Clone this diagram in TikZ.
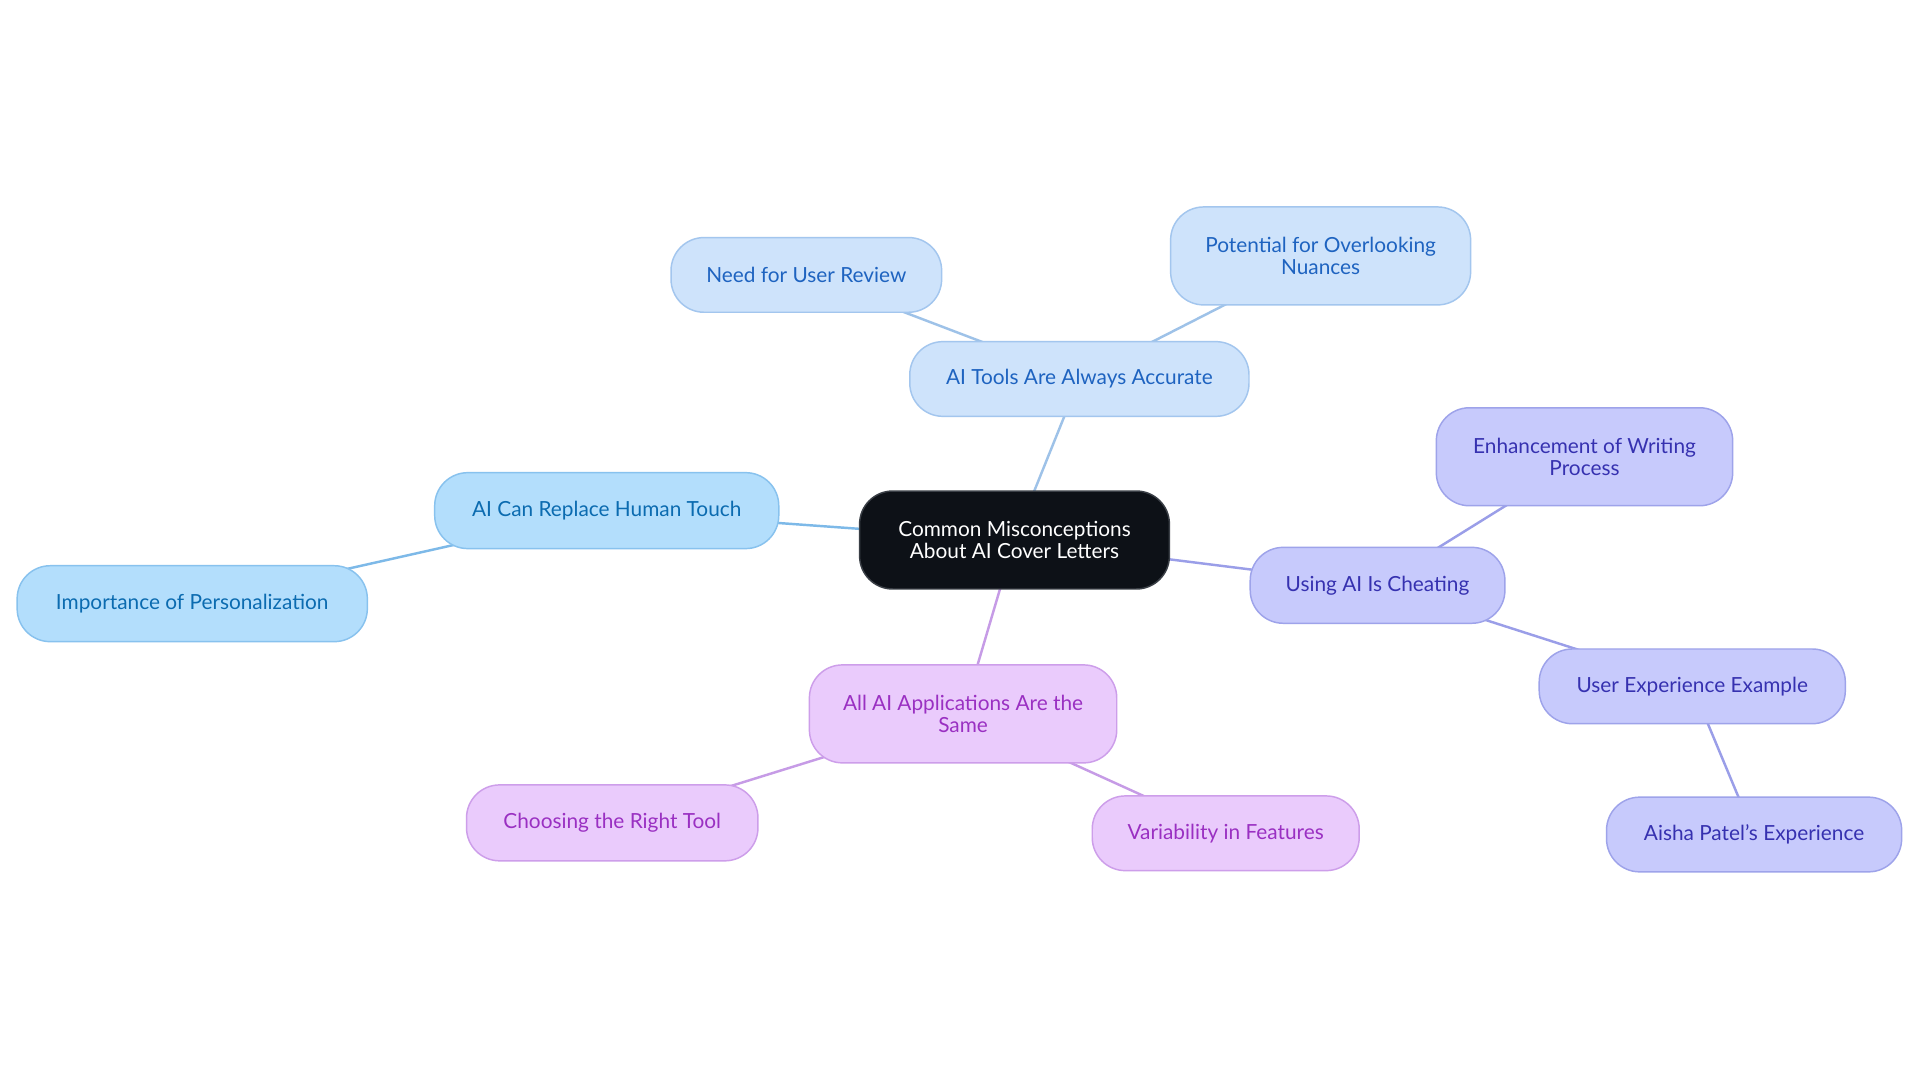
\documentclass[tikz,border=0pt]{standalone}
\usepackage{fontspec}
\setmainfont{Lato}
\usetikzlibrary{backgrounds}
\definecolor{cfillA}{HTML}{CEE3FB}
\definecolor{cdrawA}{HTML}{A3C6EE}
\definecolor{ctextA}{HTML}{1E63C0}
\definecolor{clineA}{HTML}{9EC2E8}
\definecolor{cfillB}{HTML}{B3DEFC}
\definecolor{cdrawB}{HTML}{88C2EE}
\definecolor{ctextB}{HTML}{0B6BB0}
\definecolor{clineB}{HTML}{7DB9E8}
\definecolor{cfillC}{HTML}{C7CAFC}
\definecolor{cdrawC}{HTML}{9EA3EA}
\definecolor{ctextC}{HTML}{3631B0}
\definecolor{clineC}{HTML}{9A9EE8}
\definecolor{cfillD}{HTML}{EACBFC}
\definecolor{cdrawD}{HTML}{CD9EEA}
\definecolor{ctextD}{HTML}{9A30C2}
\definecolor{clineD}{HTML}{C69BE6}
\definecolor{cfillM}{HTML}{0D1117}
\definecolor{cdrawM}{HTML}{3A3F46}
\begin{document}
\begin{tikzpicture}[x=1pt,y=-1pt,
  box/.style={rectangle, rounded corners=27pt, inner sep=0pt, align=center, line width=1.2pt,
    font=\fontsize{17}{18.5}\selectfont},
  bA/.style={box, fill=cfillA, draw=cdrawA, text=ctextA},
  bB/.style={box, fill=cfillB, draw=cdrawB, text=ctextB},
  bC/.style={box, fill=cfillC, draw=cdrawC, text=ctextC},
  bD/.style={box, fill=cfillD, draw=cdrawD, text=ctextD},
  bM/.style={box, fill=cfillM, draw=cdrawM, text=white},
  lA/.style={draw=clineA, line width=2pt},
  lB/.style={draw=clineB, line width=2pt},
  lC/.style={draw=clineC, line width=2pt},
  lD/.style={draw=clineD, line width=2pt}]
\useasboundingbox (0,0) rectangle (1568,884.4);
\node[bM, minimum width=253pt, minimum height=80pt] (root) at (828.5,441) {Common Misconceptions\\About AI Cover Letters};
\node[bA, minimum width=277pt, minimum height=61pt] (tools) at (881.5,309.5) {AI Tools Are Always Accurate};
\node[bA, minimum width=221pt, minimum height=61pt] (review) at (658.5,224.5) {Need for User Review};
\node[bA, minimum width=245pt, minimum height=80pt] (nuance) at (1078.5,209) {Potential for Overlooking\\Nuances};
\node[bB, minimum width=281pt, minimum height=62pt] (human) at (495.5,417) {AI Can Replace Human Touch};
\node[bB, minimum width=286pt, minimum height=62pt] (person) at (157,493) {Importance of Personalization};
\node[bC, minimum width=208pt, minimum height=62pt] (cheat) at (1125,478) {Using AI Is Cheating};
\node[bC, minimum width=242pt, minimum height=80pt] (enh) at (1294,373) {Enhancement of Writing\\Process};
\node[bC, minimum width=250pt, minimum height=61pt] (uexp) at (1382,560.5) {User Experience Example};
\node[bC, minimum width=241pt, minimum height=61pt] (aisha) at (1432.5,681.5) {Aisha Patel's Experience};
\node[bD, minimum width=251pt, minimum height=80pt] (same) at (786.5,583) {All AI Applications Are the\\Same};
\node[bD, minimum width=238pt, minimum height=62pt] (choose) at (500,672) {Choosing the Right Tool};
\node[bD, minimum width=218pt, minimum height=61pt] (vari) at (1001,680.5) {Variability in Features};
\begin{scope}[on background layer]
\fill[white] (0,0) rectangle (1568,884.4);
\draw[lA] (root.center) -- (tools.center);
\draw[lA] (tools.center) -- (review.center);
\draw[lA] (tools.center) -- (nuance.center);
\draw[lB] (root.center) -- (human.center);
\draw[lB] (human.center) -- (person.center);
\draw[lC] (root.center) -- (cheat.center);
\draw[lC] (cheat.center) -- (enh.center);
\draw[lC] (cheat.center) -- (uexp.center);
\draw[lC] (uexp.center) -- (aisha.center);
\draw[lD] (root.center) -- (same.center);
\draw[lD] (same.center) -- (choose.center);
\draw[lD] (same.center) -- (vari.center);
\end{scope}
\end{tikzpicture}
\end{document}
